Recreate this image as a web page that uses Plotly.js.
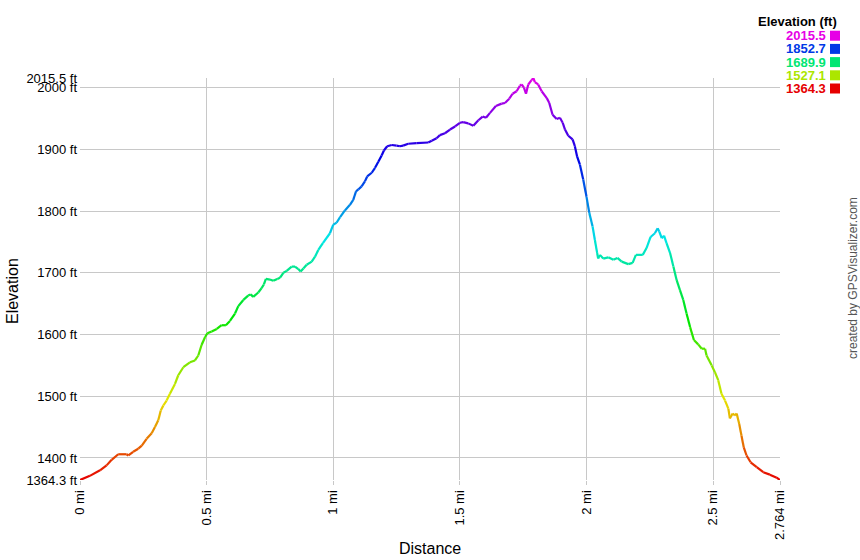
<!DOCTYPE html>
<html>
<head>
<meta charset="utf-8">
<script src="https://cdn.plot.ly/plotly-3.0.1.min.js"></script>
<style>
html,body{margin:0;padding:0;background:#fff;}
#chart{width:860px;height:560px;}
</style>
</head>
<body>
<div id="chart"></div>
<script>
// ---- data ----
const distanceMi = [
  0.000,0.039,0.079,0.105,0.125,0.151,0.184,0.191,0.210,0.230,0.244,0.263,0.283,0.296,0.309,0.319,0.329,0.342,0.355,0.375,
  0.388,0.408,0.434,0.454,0.467,0.480,0.494,0.503,0.520,0.540,0.559,0.576,0.592,0.612,0.625,0.645,0.664,0.674,0.684,0.704,
  0.717,0.726,0.734,0.750,0.763,0.779,0.790,0.803,0.816,0.836,0.849,0.862,0.871,0.882,0.895,0.915,0.928,0.941,0.959,0.987,
  1.000,1.013,1.027,1.046,1.066,1.079,1.090,1.099,1.112,1.125,1.134,1.152,1.165,1.178,1.191,1.200,1.213,1.231,1.250,1.263,
  1.276,1.296,1.329,1.375,1.389,1.408,1.421,1.441,1.461,1.481,1.500,1.513,1.533,1.553,1.573,1.590,1.603,1.619,1.642,1.665,
  1.678,1.695,1.708,1.724,1.737,1.744,1.753,1.761,1.770,1.783,1.790,1.796,1.809,1.823,1.843,1.853,1.866,1.882,1.895,1.906,
  1.915,1.928,1.945,1.954,1.963,1.974,1.987,2.000,2.011,2.024,2.033,2.042,2.046,2.053,2.066,2.086,2.106,2.122,2.139,2.165,
  2.182,2.195,2.222,2.237,2.253,2.270,2.281,2.287,2.297,2.306,2.316,2.330,2.343,2.356,2.369,2.382,2.395,2.409,2.424,2.441,
  2.455,2.468,2.474,2.494,2.507,2.520,2.533,2.547,2.560,2.566,2.577,2.586,2.593,2.603,2.612,2.621,2.632,2.648,2.672,2.698,
  2.724,2.751,2.764
];
const elevationFt = [
  1364.3,1371,1380,1388,1397,1406,1406,1404,1410,1415,1420,1431,1440,1450,1461,1477,1485,1493,1504,1520,
  1534,1547,1555,1558,1566,1583,1596,1602,1605,1609,1615,1615,1622,1634,1646,1656,1663,1665,1661,1668,
  1675,1681,1690,1689,1687,1690,1692,1700,1703,1710,1710,1706,1702,1707,1713,1718,1726,1737,1748,1764,
  1778,1781,1790,1801,1810,1818,1832,1835,1840,1848,1856,1862,1870,1880,1890,1898,1905,1907,1906,1905,
  1906,1909,1910,1911,1914,1918,1923,1926,1932,1937,1943,1944,1942,1938,1947,1953,1951,1959,1970,1974,
  1975,1982,1990,1994,2003,2005,2000,1990,2005,2012,2015.5,2009,2005,1994,1983,1975,1956,1949,1951,1943,
  1932,1922,1916,1905,1888,1875,1851,1823,1797,1775,1753,1732,1723,1729,1723,1725,1721,1724,1718,1714,
  1716,1729,1729,1740,1758,1764,1772,1767,1756,1760,1748,1732,1710,1688,1672,1656,1634,1612,1591,1584,
  1577,1577,1566,1550,1539,1526,1504,1493,1480,1464,1472,1469,1472,1455,1436,1417,1404,1393,1385,1377,
  1373,1368,1364.3
];
const xTickVals = [0, 0.5, 1, 1.5, 2, 2.5, 2.764];
const xTickText = ['0 mi', '0.5 mi', '1 mi', '1.5 mi', '2 mi', '2.5 mi', '2.764 mi'];
const yTickVals = [1364.3, 1400, 1500, 1600, 1700, 1800, 1900, 2000, 2015.5];
const yTickText = ['1364.3 ft', '1400 ft', '1500 ft', '1600 ft', '1700 ft', '1800 ft', '1900 ft', '2000 ft', '2015.5 ft'];
const legendValues = [2015.5, 1852.7, 1689.9, 1527.1, 1364.3];
const legendTitle = 'Elevation (ft)';
const creditText = 'created by GPSVisualizer.com';

// ---- colour scale: hue 0 (red) -> 300 (magenta) ----
const eMin = 1364.3, eMax = 2015.5;
function elevColor(e) {
  let t = (e - eMin) / (eMax - eMin);
  t = Math.max(0, Math.min(1, t));
  const h = 300 * t, v = 0.9;
  const hp = h / 60, x = v * (1 - Math.abs(hp % 2 - 1));
  let r = 0, g = 0, b = 0;
  if (hp < 1) { r = v; g = x; }
  else if (hp < 2) { r = x; g = v; }
  else if (hp < 3) { g = v; b = x; }
  else if (hp < 4) { g = x; b = v; }
  else { r = x; b = v; }
  const c = n => Math.round(n * 255);
  return 'rgb(' + c(r) + ',' + c(g) + ',' + c(b) + ')';
}

// ---- traces: one segment per pair of points, coloured by elevation ----
const traces = [];
for (let i = 0; i < distanceMi.length - 1; i++) {
  const mid = (elevationFt[i] + elevationFt[i + 1]) / 2;
  traces.push({
    type: 'scatter', mode: 'lines',
    x: [distanceMi[i], distanceMi[i + 1]],
    y: [elevationFt[i], elevationFt[i + 1]],
    line: {color: elevColor(mid), width: 2.2},
    hoverinfo: 'skip', showlegend: false
  });
}

// ---- legend and text ----
const FONT = 'Liberation Sans, Arial, sans-serif';
const W = 860, H = 560, L = 80, R = 80, T = 78, B = 80;
const pw = W - L - R, ph = H - T - B;
const px = x => (x - L) / pw;
const py = y => (H - B - y) / ph;

const annotations = [
  {xref: 'paper', yref: 'paper', x: px(838), y: py(21.5), xanchor: 'right', yanchor: 'middle', borderpad: 0,
   text: '<b>' + legendTitle + '</b>', showarrow: false, font: {family: FONT, size: 13, color: '#000'}},
  {xref: 'paper', yref: 'paper', x: px(12), y: py(291), xanchor: 'center', yanchor: 'middle',
   text: 'Elevation', textangle: -90, showarrow: false, font: {family: FONT, size: 16, color: '#000'}},
  {xref: 'paper', yref: 'paper', x: 0.5, y: py(548), xanchor: 'center', yanchor: 'middle',
   text: 'Distance', showarrow: false, font: {family: FONT, size: 16, color: '#000'}},
  {xref: 'paper', yref: 'paper', x: px(853), y: py(278), xanchor: 'center', yanchor: 'middle',
   text: creditText, textangle: -90, showarrow: false, font: {family: FONT, size: 12, color: '#555'}}
];
const shapes = [];
legendValues.forEach((v, i) => {
  const cy = 35.7 + i * 13.2;
  const col = elevColor(v);
  annotations.push({xref: 'paper', yref: 'paper', x: px(826.5), y: py(cy), xanchor: 'right', yanchor: 'middle', borderpad: 0,
    text: '<b>' + v.toFixed(1) + '</b>', showarrow: false, font: {family: FONT, size: 13, color: col}});
  shapes.push({type: 'rect', xref: 'paper', yref: 'paper', x0: px(830), x1: px(840), y0: py(cy + 5), y1: py(cy - 5),
    fillcolor: col, line: {width: 0}});
});

const layout = {
  width: W, height: H,
  margin: {l: L, r: R, t: T, b: B, pad: 0},
  paper_bgcolor: '#fff', plot_bgcolor: '#fff',
  font: {family: FONT, size: 13, color: '#000'},
  showlegend: false, hovermode: false,
  xaxis: {
    range: [0, 2.764], tickmode: 'array', tickvals: xTickVals, ticktext: xTickText,
    tickangle: -90, showgrid: true, gridcolor: '#c8c8c8', gridwidth: 1,
    zeroline: false, showline: false, ticks: 'outside', ticklen: 4, tickcolor: '#c8c8c8',
    tickfont: {family: FONT, size: 13, color: '#000'}
  },
  yaxis: {
    range: [1364.3, 2015.5], tickmode: 'array', tickvals: yTickVals, ticktext: yTickText,
    showgrid: true, gridcolor: '#c8c8c8', gridwidth: 1,
    zeroline: false, showline: false, ticks: '', ticklabelstandoff: 2,
    tickfont: {family: FONT, size: 13, color: '#000'}
  },
  annotations: annotations,
  shapes: shapes
};

Plotly.newPlot('chart', traces, layout, {staticPlot: true, displayModeBar: false});
</script>
</body>
</html>
